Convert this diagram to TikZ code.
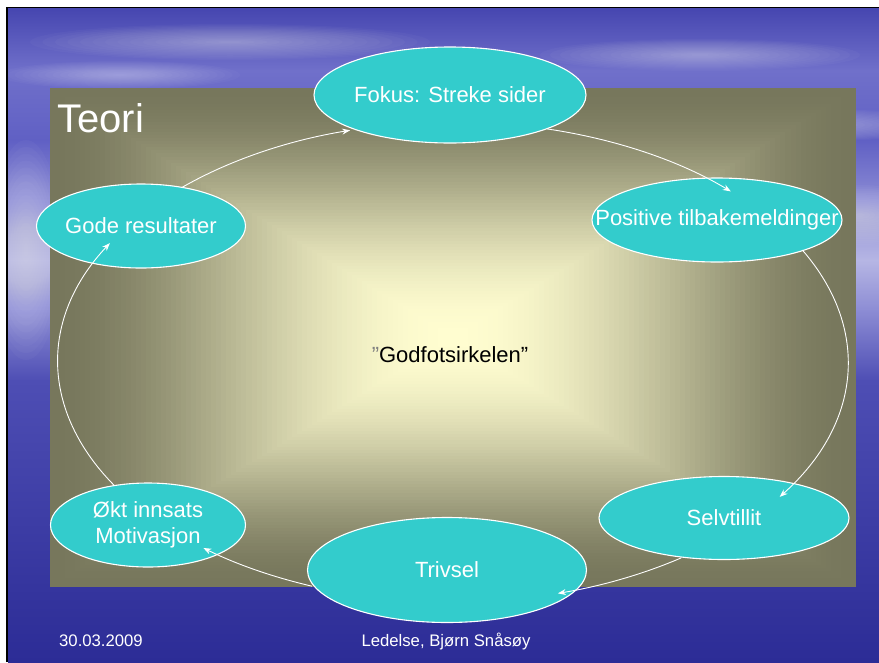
\documentclass[tikz,border=0pt]{standalone}
\usepackage{fontspec}
\setmainfont{Liberation Sans}
\usetikzlibrary{arrows.meta,shapes.geometric}
\definecolor{nodecyan}{RGB}{51,204,204}
\definecolor{pedge}{RGB}{119,119,92}
\definecolor{pbright}{RGB}{255,253,208}
\definecolor{skyA}{RGB}{70,70,176}
\definecolor{skyB}{RGB}{112,112,202}
\definecolor{skyC}{RGB}{96,96,196}
\definecolor{skyD}{RGB}{182,182,228}
\definecolor{skyE}{RGB}{140,140,212}
\definecolor{skyF}{RGB}{78,78,180}
\definecolor{skyG}{RGB}{44,44,150}
\newcommand\softcloud[4]{%
  \foreach \s in {1,...,16}{
    \fill[white, opacity=0.026] (#1,#2) ellipse [x radius=#3*\s/16, y radius=#4*\s/16];
  }}
\tikzset{
  bubble/.style={ellipse, fill=nodecyan, draw=white, line width=1.1pt, inner sep=0pt,
    text=white, font=\fontsize{22}{26}\selectfont},
  conn/.style={draw=white, line width=0.9pt, -{Stealth[length=8pt,width=6pt]}},
  label/.style={inner sep=0pt, text=white},
}
\begin{document}
\begin{tikzpicture}[x=1pt,y=-1pt]
\useasboundingbox (0,0) rectangle (879,662);
\fill[white] (0,0) rectangle (879,662);
% sky and sea background
\shade[top color=skyA, bottom color=skyB] (8,8) rectangle (879,71);
\shade[top color=skyB, bottom color=skyC] (8,70) rectangle (879,141);
\shade[top color=skyC, bottom color=skyD] (8,140) rectangle (879,261);
\shade[top color=skyD, bottom color=skyE] (8,260) rectangle (879,311);
\shade[top color=skyE, bottom color=skyF] (8,310) rectangle (879,381);
\shade[top color=skyF, bottom color=skyG] (8,380) rectangle (879,662);
\begin{scope}
\clip (8,8) rectangle (879,662);
\softcloud{230}{42}{200}{18}
\softcloud{120}{75}{120}{14}
\softcloud{700}{55}{160}{16}
\softcloud{820}{125}{120}{16}
\softcloud{860}{215}{80}{30}
\softcloud{26}{250}{36}{110}
\end{scope}
\draw[line width=1.6pt] (6.8,662) -- (6.8,7.6) -- (879,7.6);
% panel with rectangular gradient
\foreach \i in {0,...,80}{
  \pgfmathsetmacro\f{1-\i/80}
  \pgfmathsetmacro\w{100*(1-\f*\f)^2}
  \fill[pbright!\w!pedge] (453-403*\f,337.5-249.5*\f) rectangle (453+403*\f,337.5+249.5*\f);
}
% title and texts
\node[label, anchor=base west, font=\fontsize{40}{48}\selectfont] (teori) at (57,132) {Teori};
\node[inner sep=0pt, font=\fontsize{22}{26}\selectfont] (godfot) at (450,355) {\textcolor{gray}{”}Godfotsirkelen”};
\node[label, anchor=base west, font=\fontsize{16.7}{20}\selectfont] (date) at (59,646) {30.03.2009};
\node[label, anchor=base, font=\fontsize{16.7}{20}\selectfont] (author) at (446,646) {Ledelse, Bjørn Snåsøy};
% nodes
\node[bubble, minimum width=272pt, minimum height=96pt] (fokus) at (450,95) {\makebox[0pt]{Fokus: Streke sider}};
\node[bubble, minimum width=250pt, minimum height=84pt] (positive) at (717,220) {\makebox[0pt]{Positive tilbakemeldinger}};
\node[bubble, minimum width=250pt, minimum height=83pt] (selv) at (724,518) {\makebox[0pt]{Selvtillit}};
\node[bubble, minimum width=279pt, minimum height=105pt] (trivsel) at (447,570) {\makebox[0pt]{Trivsel}};
\node[bubble, minimum width=195pt, minimum height=84pt] (okt) at (148,525) {\makebox[0pt]{\begin{tabular}{@{}c@{}}Økt innsats\\Motivasjon\end{tabular}}};
\node[bubble, minimum width=209pt, minimum height=84pt] (gode) at (141,226) {\makebox[0pt]{Gode resultater}};
% connectors along the cycle ellipse
\coordinate (E) at (453,362);
\path (E) ++(226.6:395 and 240) coordinate (c1);
\path (E) ++(283.8:395 and 240) coordinate (c2);
\path (E) ++(332.2:395 and 240) coordinate (c3);
\path (E) ++(54.7:395 and 240) coordinate (c4);
\path (E) ++(110.9:395 and 240) coordinate (c5);
\path (E) ++(149:395 and 240) coordinate (c6);
\draw[conn] (c1) arc[start angle=226.6, end angle=254.9, x radius=395, y radius=240];
\draw[conn] (c2) arc[start angle=283.8, end angle=314.7, x radius=395, y radius=240];
\draw[conn] (c3) arc[start angle=332.2, end angle=394.2, x radius=395, y radius=240];
\draw[conn] (c4) arc[start angle=54.7, end angle=74.6, x radius=395, y radius=240];
\draw[conn] (c5) arc[start angle=110.9, end angle=129.2, x radius=395, y radius=240];
\draw[conn] (c6) arc[start angle=149, end angle=209.7, x radius=395, y radius=240];
\end{tikzpicture}
\end{document}
